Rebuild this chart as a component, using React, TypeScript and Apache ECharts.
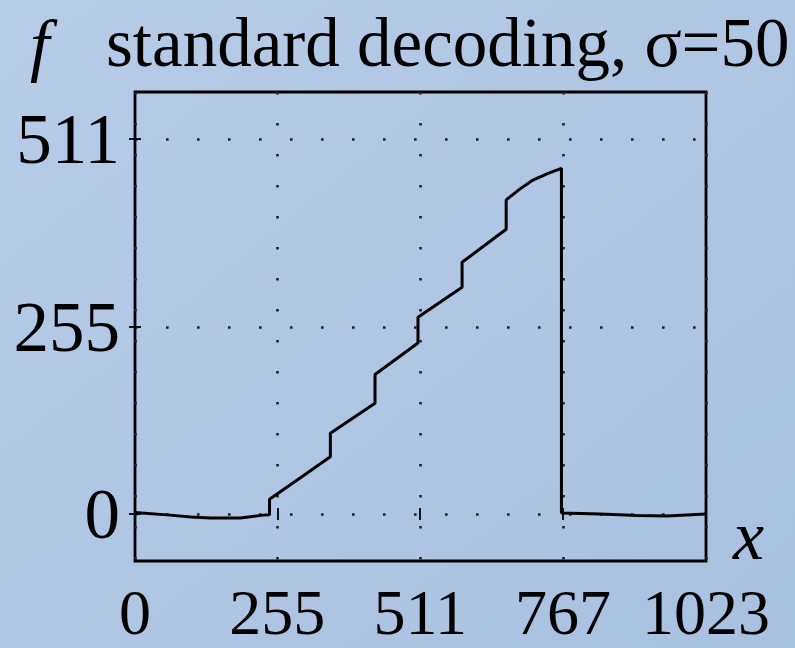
import React, { useEffect, useRef } from "react";
import * as echarts from "echarts";

const titleText = "standard decoding, σ=50";
const yName = "f";
const xName = "x";
const xTickValues = [0, 255, 511, 767, 1023];
const yTickValues = [0, 255, 511];
const xMin = 0;
const xMax = 1023;
const yMin = -64;
const yMax = 575;

// decoded curve f(x) (vertical steps repeat the x value)
const curveX = [0, 63, 100, 135, 189, 230, 241, 241, 290, 350, 350, 430, 430, 507, 507, 586, 586, 665, 665, 690, 713, 740, 764, 764, 833, 900, 953, 1023];
const curveY = [2, -1.5, -4, -5.4, -5.4, -1.5, -1, 20, 46, 78, 110, 151, 190, 233, 268, 309, 343, 388, 428, 443, 455, 464, 471, 1.5, 0, -2, -2.7, 0];

const SERIF = "'Liberation Serif', 'Times New Roman', 'DejaVu Serif', serif";

export default function App() {
  const ref = useRef<HTMLDivElement>(null);
  useEffect(() => {
    if (!ref.current) return;
    const chart = echarts.init(ref.current, null, { renderer: "svg" });
    const data = curveX.map((x, i) => [x, curveY[i]]);
    const dotted = { color: "#222", width: 2.6, type: [2.6, 28.4] as number[] };
    const tickStyle = { color: "#000", width: 1.8 };
    chart.setOption({
      animation: false,
      backgroundColor: {
        type: "linear", x: 0, y: 0, x2: 1, y2: 1,
        colorStops: [
          { offset: 0, color: "#B6CCE7" },
          { offset: 1, color: "#A9C1E1" },
        ],
      },
      grid: {
        left: 135, right: 89, top: 92, bottom: 87,
        outerBoundsMode: "none",
        containLabel: false,
        show: true, borderColor: "#000", borderWidth: 2.8, backgroundColor: "transparent",
      },
      xAxis: [
        {
          type: "value", min: xMin, max: xMax, position: "bottom",
          axisLine: { show: false },
          axisTick: { show: true, inside: true, length: 6, customValues: xTickValues, lineStyle: tickStyle },
          axisLabel: {
            customValues: xTickValues, margin: 19, formatter: (v: number) => String(v),
            fontFamily: SERIF, fontSize: 64, color: "#000",
          },
          splitLine: { show: true, lineStyle: dotted },
        },
        {
          type: "value", min: xMin, max: xMax, position: "top",
          axisLine: { show: false },
          axisTick: { show: true, inside: true, length: 6, customValues: xTickValues, lineStyle: tickStyle },
          axisLabel: { show: false },
          splitLine: { show: false },
        },
      ],
      yAxis: [
        {
          type: "value", min: yMin, max: yMax, position: "left",
          axisLine: { show: false },
          axisTick: { show: true, inside: true, length: 6, customValues: yTickValues, lineStyle: tickStyle },
          axisLabel: {
            customValues: yTickValues, margin: 15, formatter: (v: number) => String(v),
            fontFamily: SERIF, fontSize: 71, color: "#000",
          },
          splitLine: { show: true, lineStyle: dotted },
        },
        {
          type: "value", min: yMin, max: yMax, position: "right",
          axisLine: { show: false },
          axisTick: { show: true, inside: true, length: 6, customValues: yTickValues, lineStyle: tickStyle },
          axisLabel: { show: false },
          splitLine: { show: false },
        },
      ],
      series: [
        {
          type: "line",
          data,
          showSymbol: false,
          symbol: "none",
          lineStyle: { color: "#000", width: 3 },
          z: 5,
        },
      ],
      graphic: [
        {
          type: "text", left: 106, top: 8,
          style: { text: titleText, font: `69px ${SERIF}`, fill: "#000" },
        },
        {
          type: "text", left: 30, top: 9,
          style: { text: yName, font: `italic 70px ${SERIF}`, fill: "#000" },
        },
        {
          type: "text", left: 733, top: 500,
          style: { text: xName, font: `italic 70px ${SERIF}`, fill: "#000" },
        },
      ],
    });
    return () => chart.dispose();
  }, []);
  return <div ref={ref} style={{ position: "fixed", left: 0, top: 0, width: 795, height: 648 }} />;
}
